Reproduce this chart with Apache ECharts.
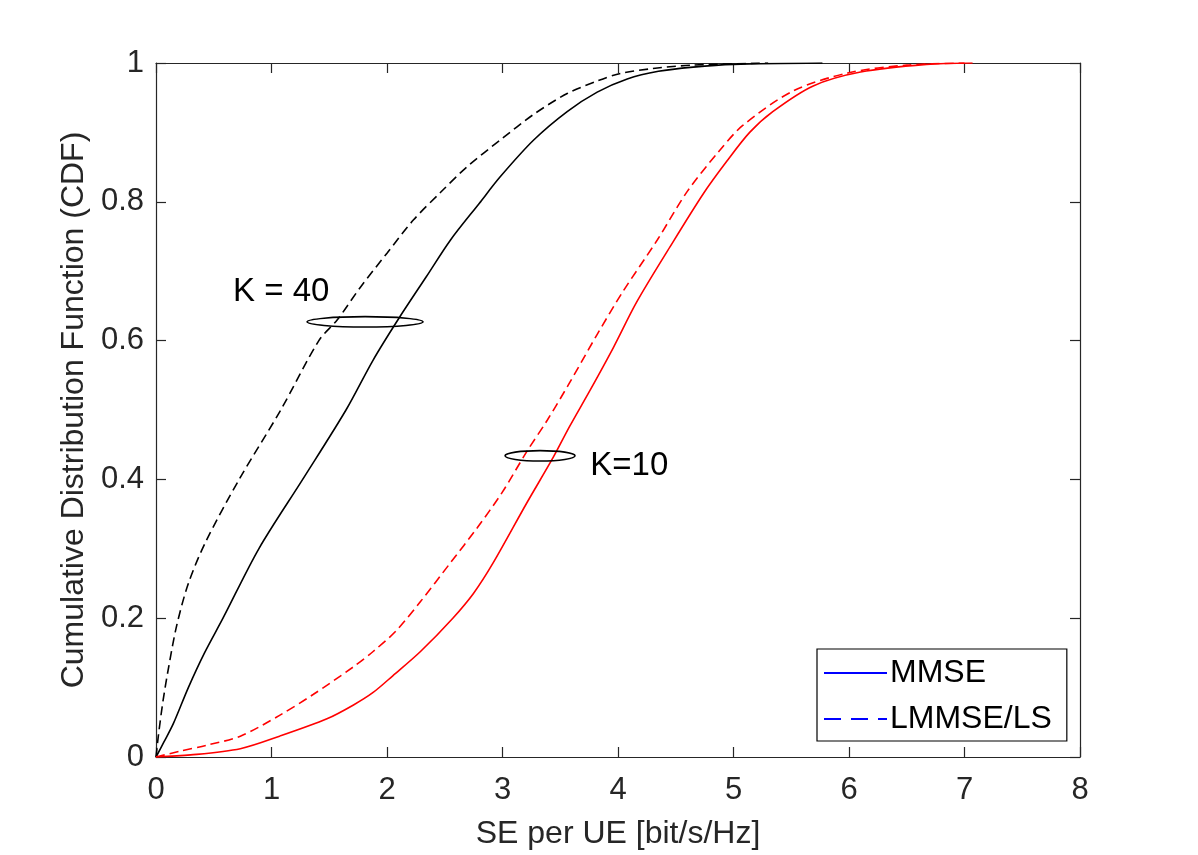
<!DOCTYPE html>
<html>
<head>
<meta charset="utf-8">
<script src="https://cdn.jsdelivr.net/npm/echarts@6/dist/echarts.min.js"></script>
<style>
  html, body { margin: 0; padding: 0; background: #fff; }
  #chart { width: 1198px; height: 855px; }
</style>
</head>
<body>
<div id="chart"></div>
<script>
// K = 40, MMSE（实线）
const k40Mmse = [[0, 0], [0.07, 0.022], [0.15, 0.048], [0.28, 0.1], [0.42, 0.15], [0.58, 0.2], [0.89, 0.3],
  [1.27, 0.4], [1.645, 0.5], [1.88, 0.572], [2.11, 0.634], [2.34, 0.692], [2.55, 0.745], [2.8, 0.798],
  [2.98, 0.836], [3.27, 0.889], [3.56, 0.93], [3.82, 0.958], [4.08, 0.977], [4.35, 0.988], [4.65, 0.994],
  [5.0, 0.998], [5.77, 1]];
// K = 40, LMMSE/LS（虚线）
const k40Lmmse = [[0, 0], [0.02, 0.03], [0.06, 0.08], [0.11, 0.13], [0.18, 0.19], [0.28, 0.25], [0.43, 0.31],
  [0.72, 0.4], [1.08, 0.5], [1.41, 0.6], [1.57, 0.63], [1.77, 0.677], [2.0, 0.726], [2.23, 0.774],
  [2.46, 0.813], [2.69, 0.85], [2.98, 0.889], [3.27, 0.926], [3.56, 0.956], [3.82, 0.974], [4.02, 0.985],
  [4.3, 0.992], [4.65, 0.997], [5.3, 1]];
// K = 10, MMSE
const k10Mmse = [[0, 0], [0.3, 0.003], [0.73, 0.012], [1.07, 0.03], [1.48, 0.055], [1.71, 0.075], [1.88, 0.093],
  [2.05, 0.117], [2.29, 0.152], [2.57, 0.2], [2.75, 0.236], [2.92, 0.28], [3.21, 0.366], [3.44, 0.432],
  [3.58, 0.476], [3.76, 0.529], [3.96, 0.59], [4.16, 0.655], [4.45, 0.735], [4.74, 0.812], [4.94, 0.858],
  [5.14, 0.9], [5.34, 0.93], [5.69, 0.967], [6.1, 0.987], [6.67, 0.998], [7.07, 1]];
// K = 10, LMMSE/LS
const k10Lmmse = [[0, 0], [0.2, 0.008], [0.44, 0.017], [0.73, 0.03], [1.07, 0.06], [1.36, 0.09], [1.71, 0.13],
  [1.88, 0.152], [2.08, 0.182], [2.29, 0.224], [2.55, 0.28], [2.78, 0.33], [3.0, 0.382], [3.21, 0.44],
  [3.39, 0.486], [3.58, 0.539], [3.82, 0.609], [4.04, 0.67], [4.34, 0.745], [4.6, 0.815], [4.86, 0.87],
  [5.08, 0.91], [5.52, 0.96], [6.0, 0.986], [6.5, 0.997], [7.0, 1]];

const legendNames = ['MMSE', 'LMMSE/LS'];
// 标注：文字位置和椭圆（数据坐标）
const labels = [{ text: 'K = 40', at: [0.667, 0.67] }, { text: 'K=10', at: [3.76, 0.419] }];
const ellipses = [{ center: [1.81, 0.627], rx: 0.502 }, { center: [3.325, 0.434], rx: 0.303 }];

const axisColor = '#262626';
const font = 'Liberation Sans, Arial, sans-serif';

const chart = echarts.init(document.getElementById('chart'));

function boxAxis(pos, isX, showLabel) {
  return {
    type: 'value',
    position: pos,
    min: 0,
    max: isX ? 8 : 1,
    interval: isX ? 1 : 0.2,
    axisLine: { show: true, onZero: false, lineStyle: { color: axisColor, width: 1.2 } },
    axisTick: { show: true, inside: true, length: 10, lineStyle: { color: axisColor, width: 1.2 } },
    axisLabel: { show: showLabel, color: axisColor, fontFamily: font, fontSize: 31, margin: isX ? 18 : 12 },
    splitLine: { show: false }
  };
}

const xMain = boxAxis('bottom', true, true);
xMain.name = 'SE per UE [bit/s/Hz]';
xMain.nameLocation = 'middle';
xMain.nameGap = 61;
xMain.nameTextStyle = { color: axisColor, fontFamily: font, fontSize: 32 };

const yMain = boxAxis('left', false, true);
yMain.name = 'Cumulative Distribution Function (CDF)';
yMain.nameLocation = 'middle';
yMain.nameGap = 66;
yMain.nameTextStyle = { color: axisColor, fontFamily: font, fontSize: 32 };

function curve(name, data, color, dash) {
  return {
    name: name,
    type: 'line',
    data: data,
    showSymbol: false,
    symbol: 'none',
    silent: true,
    smooth: 0.3,
    itemStyle: { color: color },
    lineStyle: { color: color, width: 1.6, type: dash || 'solid' },
    z: 3
  };
}

chart.setOption({
  animation: false,
  grid: { left: 156, right: 118, top: 63, bottom: 98, containLabel: false },
  xAxis: [xMain, boxAxis('top', true, false)],
  yAxis: [yMain, boxAxis('right', false, false)],
  legend: {
    data: legendNames,
    orient: 'vertical',
    left: 817,
    top: 649,
    padding: [8, 15, 6, 6],
    itemWidth: 63,
    itemHeight: 14,
    itemGap: 14,
    itemStyle: { opacity: 0 },
    backgroundColor: '#fff',
    borderColor: '#000',
    borderWidth: 1.2,
    borderRadius: 0,
    textStyle: { color: '#000', fontFamily: font, fontSize: 32, padding: [0, 0, 0, -2] }
  },
  series: [
    curve('k40-mmse', k40Mmse, '#000'),
    curve('k40-lmmse', k40Lmmse, '#000', [9, 5]),
    curve('k10-mmse', k10Mmse, '#ff0000'),
    curve('k10-lmmse', k10Lmmse, '#ff0000', [9, 5]),
    curve(legendNames[0], [], '#0000ff'),
    curve(legendNames[1], [], '#0000ff', [17, 10])
  ]
});

// 标注用 graphic 画，位置由坐标轴换算
function drawNotes() {
  const g = [];
  ellipses.forEach(function (e) {
    const c = chart.convertToPixel({ gridIndex: 0 }, e.center);
    const r = chart.convertToPixel({ gridIndex: 0 }, [e.center[0] + e.rx, e.center[1]]);
    g.push({
      type: 'ellipse',
      shape: { cx: c[0], cy: c[1], rx: r[0] - c[0], ry: 5.2 },
      style: { fill: 'none', stroke: '#000', lineWidth: 1.6 },
      z: 10
    });
  });
  labels.forEach(function (l) {
    const p = chart.convertToPixel({ gridIndex: 0 }, l.at);
    g.push({
      type: 'text',
      x: p[0],
      y: p[1],
      style: { text: l.text, fill: '#000', font: '33px ' + font, textAlign: 'left', textVerticalAlign: 'middle' },
      z: 10
    });
  });
  chart.setOption({ graphic: g });
}
drawNotes();
</script>
</body>
</html>
